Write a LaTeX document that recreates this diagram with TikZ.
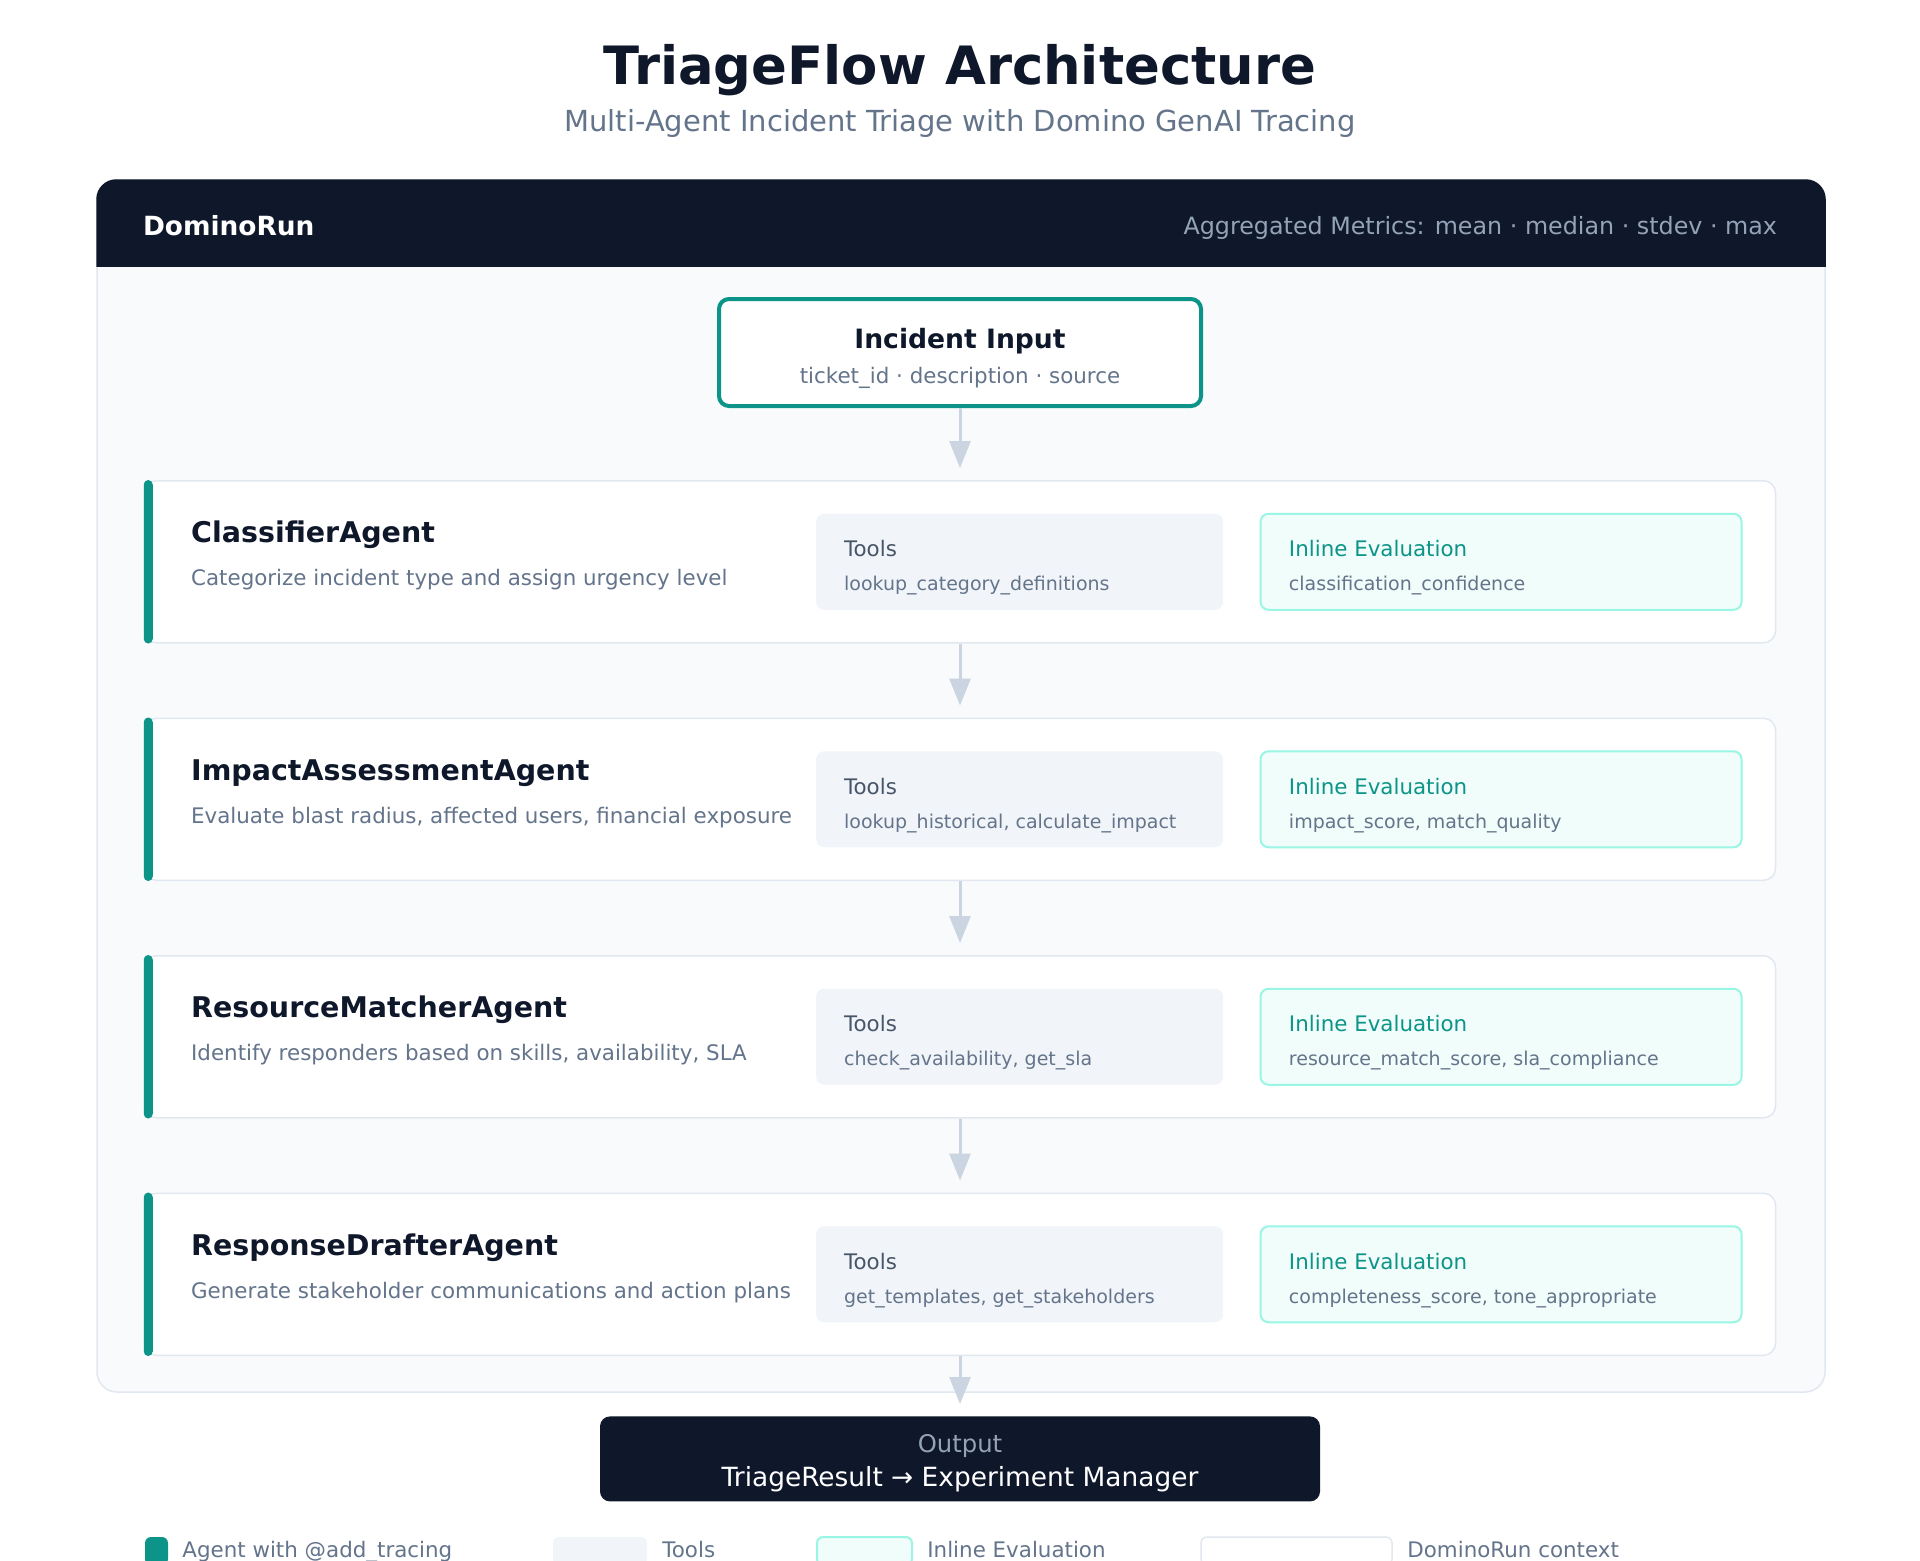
\documentclass[tikz,border=0pt]{standalone}
\usepackage{fontspec}
\setmainfont{DejaVu Sans}
\usepackage{xcolor}
\usepackage{tikz}
\usetikzlibrary{positioning, arrows.meta}

\definecolor{ink}{HTML}{0F172A}
\definecolor{muted}{HTML}{64748B}
\definecolor{slate}{HTML}{475569}
\definecolor{dim}{HTML}{94A3B8}
\definecolor{edge}{HTML}{E2E8F0}
\definecolor{panelfill}{HTML}{F8FAFC}
\definecolor{toolfill}{HTML}{F1F5F9}
\definecolor{evalfill}{HTML}{F0FDFA}
\definecolor{evaledge}{HTML}{99F6E4}
\definecolor{accent}{HTML}{0D9488}
\definecolor{flow}{HTML}{CBD5E1}

\begin{document}
\begin{tikzpicture}[
    x=0.5pt, y=-0.5pt,
    txt/.style={inner sep=0pt, anchor=base},
    heading/.style={txt, font=\fontsize{26.4}{31}\selectfont\bfseries, text=ink},
    subheading/.style={txt, font=\fontsize{14.5}{17}\selectfont, text=muted},
    panel/.style={rectangle, draw=edge, line width=0.75pt, fill=panelfill, rounded corners=10pt, minimum width=864pt, minimum height=606pt},
    inputbox/.style={rectangle, draw=accent, line width=2pt, fill=white, rounded corners=5pt, minimum width=241pt, minimum height=53.5pt},
    agent/.style={rectangle, draw=edge, line width=0.75pt, fill=white, rounded corners=6pt, minimum width=815.5pt, minimum height=81pt},
    toolbox/.style={rectangle, fill=toolfill, rounded corners=4pt, minimum width=203.5pt, minimum height=48pt},
    evalbox/.style={rectangle, draw=evaledge, line width=1pt, fill=evalfill, rounded corners=4pt, minimum width=240.5pt, minimum height=48pt},
    outbox/.style={rectangle, fill=ink, rounded corners=5pt, minimum width=360pt, minimum height=42.5pt},
    agentname/.style={txt, anchor=base west, font=\fontsize{14.25}{17}\selectfont\bfseries, text=ink},
    agentdesc/.style={txt, anchor=base west, font=\fontsize{10.7}{13}\selectfont, text=muted},
    boxhead/.style={txt, anchor=base west, font=\fontsize{10.7}{13}\selectfont, text=slate},
    evalhead/.style={boxhead, text=accent},
    boxitem/.style={txt, anchor=base west, font=\fontsize{9.5}{12}\selectfont, text=muted},
    legendtext/.style={txt, anchor=base west, font=\fontsize{10.7}{13}\selectfont, text=muted},
    swatch/.style={rectangle, rounded corners=3pt, minimum height=14pt},
    arrow/.style={-{Triangle[width=10.5pt, length=13.5pt]}, line width=1.5pt, draw=flow, shorten >=6pt}
]
    \useasboundingbox (0,0) rectangle (1920,1560);
    \fill[white] (0,0) rectangle (1920,1560);

    \node[heading] (title) at (960,84) {TriageFlow Architecture};
    \node[subheading] (subtitle) at (960,131) {Multi-Agent Incident Triage with Domino GenAI Tracing};

    % DominoRun context
    \node[panel] (run) at (961,786) {};
    \begin{scope}
        \clip[rounded corners=10pt] (run.north west) rectangle (run.south east);
        \node[rectangle, fill=ink, inner sep=0pt, minimum width=866pt, minimum height=45pt] (runhead) at (961,222) {};
    \end{scope}
    \node[txt, anchor=base west, font=\fontsize{13.2}{16}\selectfont\bfseries, text=white] (runlabel) at ([shift={(24pt,-6.5pt)}]runhead.west) {DominoRun};
    \node[txt, anchor=base east, font=\fontsize{11.9}{14}\selectfont, text=dim] (metrics) at ([shift={(-25pt,-6.25pt)}]runhead.east) {Aggregated Metrics: mean · median · stdev · max};

    % input
    \node[inputbox] (incident) at (960,352.5) {};
    \node[txt, font=\fontsize{13.3}{16}\selectfont\bfseries, text=ink] (incidenttitle) at ([yshift=1.9pt]incident.center) {Incident Input};
    \node[txt, font=\fontsize{10.7}{13}\selectfont, text=muted] (incidentsub) at ([yshift=-15.65pt]incident.center) {ticket\_id · description · source};

    % agents
    \node[agent, below=36pt of incident] (classifier) {};
    \node[agent, below=37pt of classifier] (impact) {};
    \node[agent, below=37pt of impact] (matcher) {};
    \node[agent, below=37pt of matcher] (drafter) {};
    \fill[accent, rounded corners=2.25pt] (classifier.north west) rectangle ([xshift=4.5pt]classifier.south west);
    \fill[accent, rounded corners=2.25pt] (impact.north west) rectangle ([xshift=4.5pt]impact.south west);
    \fill[accent, rounded corners=2.25pt] (matcher.north west) rectangle ([xshift=4.5pt]matcher.south west);
    \fill[accent, rounded corners=2.25pt] (drafter.north west) rectangle ([xshift=4.5pt]drafter.south west);

    \node[agentname] (classifiername) at ([shift={(23.5pt,9.5pt)}]classifier.west) {ClassifierAgent};
    \node[agentdesc] (classifierdesc) at ([shift={(23.5pt,-12pt)}]classifier.west) {Categorize incident type and assign urgency level};
    \node[toolbox, right=336pt of classifier.west] (classifiertools) {};
    \node[boxhead] at ([shift={(14pt,2.5pt)}]classifiertools.west) {Tools};
    \node[boxitem] at ([shift={(14pt,-14.4pt)}]classifiertools.west) {lookup\_category\_definitions};
    \node[evalbox, right=18pt of classifiertools] (classifiereval) {};
    \node[evalhead] at ([shift={(14.5pt,2.5pt)}]classifiereval.west) {Inline Evaluation};
    \node[boxitem] at ([shift={(14.5pt,-14.4pt)}]classifiereval.west) {classification\_confidence};

    \node[agentname] (impactname) at ([shift={(23.5pt,9.5pt)}]impact.west) {ImpactAssessmentAgent};
    \node[agentdesc] (impactdesc) at ([shift={(23.5pt,-12pt)}]impact.west) {Evaluate blast radius, affected users, financial exposure};
    \node[toolbox, right=336pt of impact.west] (impacttools) {};
    \node[boxhead] at ([shift={(14pt,2.5pt)}]impacttools.west) {Tools};
    \node[boxitem] at ([shift={(14pt,-14.4pt)}]impacttools.west) {lookup\_historical, calculate\_impact};
    \node[evalbox, right=18pt of impacttools] (impacteval) {};
    \node[evalhead] at ([shift={(14.5pt,2.5pt)}]impacteval.west) {Inline Evaluation};
    \node[boxitem] at ([shift={(14.5pt,-14.4pt)}]impacteval.west) {impact\_score, match\_quality};

    \node[agentname] (matchername) at ([shift={(23.5pt,9.5pt)}]matcher.west) {ResourceMatcherAgent};
    \node[agentdesc] (matcherdesc) at ([shift={(23.5pt,-12pt)}]matcher.west) {Identify responders based on skills, availability, SLA};
    \node[toolbox, right=336pt of matcher.west] (matchertools) {};
    \node[boxhead] at ([shift={(14pt,2.5pt)}]matchertools.west) {Tools};
    \node[boxitem] at ([shift={(14pt,-14.4pt)}]matchertools.west) {check\_availability, get\_sla};
    \node[evalbox, right=18pt of matchertools] (matchereval) {};
    \node[evalhead] at ([shift={(14.5pt,2.5pt)}]matchereval.west) {Inline Evaluation};
    \node[boxitem] at ([shift={(14.5pt,-14.4pt)}]matchereval.west) {resource\_match\_score, sla\_compliance};

    \node[agentname] (draftername) at ([shift={(23.5pt,9.5pt)}]drafter.west) {ResponseDrafterAgent};
    \node[agentdesc] (drafterdesc) at ([shift={(23.5pt,-12pt)}]drafter.west) {Generate stakeholder communications and action plans};
    \node[toolbox, right=336pt of drafter.west] (draftertools) {};
    \node[boxhead] at ([shift={(14pt,2.5pt)}]draftertools.west) {Tools};
    \node[boxitem] at ([shift={(14pt,-14.4pt)}]draftertools.west) {get\_templates, get\_stakeholders};
    \node[evalbox, right=18pt of draftertools] (draftereval) {};
    \node[evalhead] at ([shift={(14.5pt,2.5pt)}]draftereval.west) {Inline Evaluation};
    \node[boxitem] at ([shift={(14.5pt,-14.4pt)}]draftereval.west) {completeness\_score, tone\_appropriate};

    % output
    \node[outbox, below=30pt of drafter] (output) {};
    \node[txt, font=\fontsize{12.15}{15}\selectfont, text=dim] (outputtitle) at ([yshift=3.3pt]output.center) {Output};
    \node[txt, font=\fontsize{13.2}{16}\selectfont, text=white] (outputtext) at ([yshift=-13.55pt]output.center) {TriageResult → Experiment Manager};

    \draw[arrow] (incident) -- (classifier);
    \draw[arrow] (classifier) -- (impact);
    \draw[arrow] (impact) -- (matcher);
    \draw[arrow] (matcher) -- (drafter);
    \draw[arrow] (drafter) -- (output);

    % legend
    \node[swatch, fill=accent, minimum width=11.5pt] (legagent) at (156.5,1551) {};
    \node[legendtext] (legagenttext) at (182,1557) {Agent with @add\_tracing};
    \node[swatch, fill=toolfill, minimum width=47pt] (legtools) at (600,1551) {};
    \node[legendtext] (legtoolstext) at (662,1557) {Tools};
    \node[swatch, fill=evalfill, draw=evaledge, line width=1pt, minimum width=47.5pt] (legeval) at (864.5,1551) {};
    \node[legendtext] (legevaltext) at (927,1557) {Inline Evaluation};
    \node[swatch, fill=white, draw=edge, line width=0.75pt, minimum width=95.5pt] (legrun) at (1296.5,1551) {};
    \node[legendtext] (legruntext) at (1407,1557) {DominoRun context};
\end{tikzpicture}
\end{document}
